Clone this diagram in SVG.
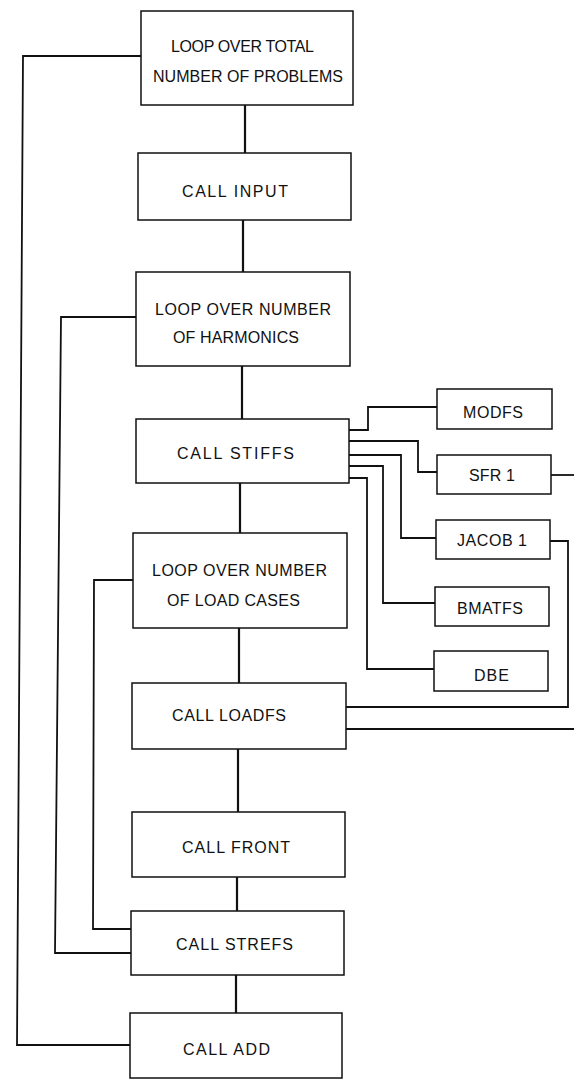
<svg xmlns="http://www.w3.org/2000/svg" width="574" height="1080" viewBox="0 0 574 1080">
<style>
.box{fill:#fff;stroke:#111;stroke-width:1.5}
.t{font-family:"Liberation Sans",Arial,sans-serif;font-size:16px;fill:#111}
.s{font-family:"Liberation Sans",Arial,sans-serif;font-size:16px;fill:#111}
.c{fill:none;stroke:#111;stroke-width:1.8}
.v{fill:none;stroke:#111;stroke-width:2.2}
</style>
<rect width="574" height="1080" fill="#fff"/>
<g id="connectors">
<polyline class="c" points="141,56 23,56 17,1045 130,1045"/>
<polyline class="c" points="136,317 61,317 55,953 131,953"/>
<polyline class="c" points="133,580 94,580 93,929 131,929"/>
<line class="v" x1="245" y1="105" x2="245" y2="153"/>
<line class="v" x1="243" y1="220" x2="243" y2="272"/>
<line class="v" x1="242" y1="366" x2="242" y2="419"/>
<line class="v" x1="240" y1="483" x2="240" y2="533"/>
<line class="v" x1="239" y1="628" x2="239" y2="683"/>
<line class="v" x1="238" y1="749" x2="238" y2="812"/>
<line class="v" x1="237" y1="877" x2="237" y2="911"/>
<line class="v" x1="236" y1="975" x2="236" y2="1013"/>
<polyline class="c" points="349,430 368,430 368,407 437,407"/>
<polyline class="c" points="349,441 418,441 418,472 437,472"/>
<polyline class="c" points="349,455 401,455 401,538 436,538"/>
<polyline class="c" points="349,466 383,466 383,603 435,603"/>
<polyline class="c" points="349,478 367,478 367,669 434,669"/>
<polyline class="c" points="551,475 574,475"/>
<polyline class="c" points="550,541 568,541 568,707 346,707"/>
<polyline class="c" points="346,729 574,729"/>
</g>
<g id="n1"><rect class="box" x="141" y="11" width="212" height="94"/>
<text class="t" x="171" y="52" textLength="143" lengthAdjust="spacing">LOOP OVER TOTAL</text>
<text class="t" x="153" y="82" textLength="190" lengthAdjust="spacing">NUMBER OF PROBLEMS</text></g>
<g id="n2"><rect class="box" x="138" y="153" width="213" height="67"/>
<text class="t" x="182" y="197" textLength="106" lengthAdjust="spacing">CALL INPUT</text></g>
<g id="n3"><rect class="box" x="136" y="272" width="214" height="94"/>
<text class="t" x="155" y="315" textLength="176" lengthAdjust="spacing">LOOP OVER NUMBER</text>
<text class="t" x="173" y="343" textLength="126" lengthAdjust="spacing">OF HARMONICS</text></g>
<g id="n4"><rect class="box" x="136" y="419" width="213" height="64"/>
<text class="t" x="177" y="459" textLength="117" lengthAdjust="spacing">CALL STIFFS</text></g>
<g id="n5"><rect class="box" x="133" y="533" width="214" height="95"/>
<text class="t" x="152" y="576" textLength="175" lengthAdjust="spacing">LOOP OVER NUMBER</text>
<text class="t" x="167" y="606" textLength="133" lengthAdjust="spacing">OF LOAD CASES</text></g>
<g id="n6"><rect class="box" x="132" y="683" width="214" height="66"/>
<text class="t" x="172" y="721" textLength="114" lengthAdjust="spacing">CALL LOADFS</text></g>
<g id="n7"><rect class="box" x="132" y="812" width="213" height="65"/>
<text class="t" x="182" y="853" textLength="108" lengthAdjust="spacing">CALL FRONT</text></g>
<g id="n8"><rect class="box" x="131" y="911" width="213" height="64"/>
<text class="t" x="176" y="950" textLength="117" lengthAdjust="spacing">CALL STREFS</text></g>
<g id="n9"><rect class="box" x="130" y="1013" width="212" height="65"/>
<text class="t" x="183" y="1055" textLength="87" lengthAdjust="spacing">CALL ADD</text></g>
<g id="modfs"><rect class="box" x="437" y="389" width="115" height="40"/>
<text class="s" x="463" y="418" textLength="60" lengthAdjust="spacing">MODFS</text></g>
<g id="sfr1"><rect class="box" x="437" y="455" width="114" height="39"/>
<text class="s" x="469" y="481" textLength="46" lengthAdjust="spacing">SFR 1</text></g>
<g id="jacob1"><rect class="box" x="436" y="520" width="114" height="39"/>
<text class="s" x="457" y="546" textLength="70" lengthAdjust="spacing">JACOB 1</text></g>
<g id="bmatfs"><rect class="box" x="435" y="587" width="114" height="39"/>
<text class="s" x="457" y="614" textLength="66" lengthAdjust="spacing">BMATFS</text></g>
<g id="dbe"><rect class="box" x="434" y="651" width="114" height="40"/>
<text class="s" x="474" y="681" textLength="35" lengthAdjust="spacing">DBE</text></g>
</svg>
